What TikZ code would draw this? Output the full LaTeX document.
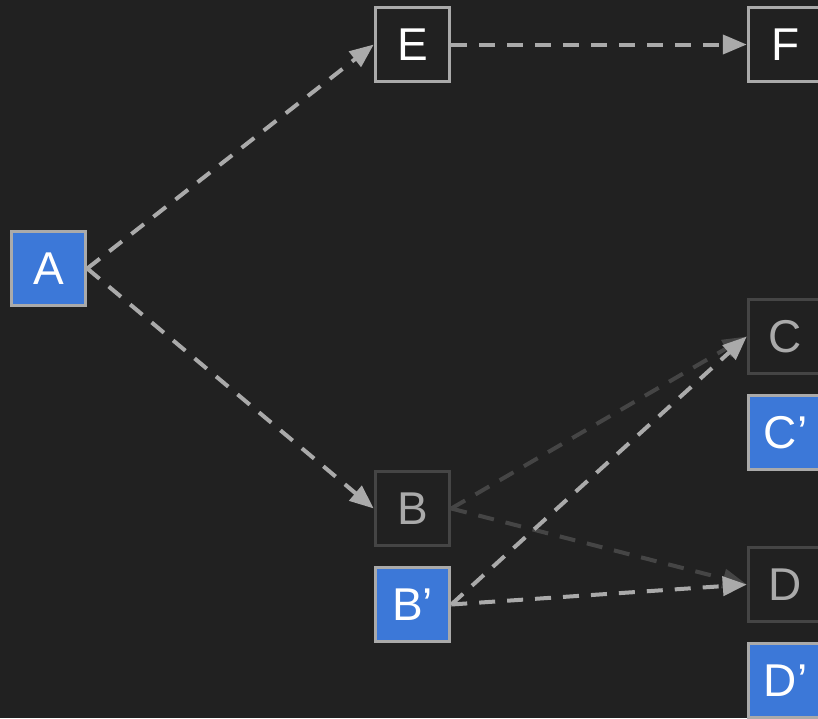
\documentclass[tikz,border=0pt]{standalone}
\usepackage{fontspec}
\setmainfont{Liberation Sans}
\usetikzlibrary{positioning, arrows.meta}

\definecolor{bg}{HTML}{212121}
\definecolor{nodeblue}{HTML}{3C78D8}
\definecolor{lightline}{HTML}{AAAAAA}
\definecolor{darkline}{HTML}{454545}

\begin{document}
\begin{tikzpicture}[
        x=1pt, y=-1pt,
        box/.style={rectangle, draw=lightline, line width=3pt, fill=bg, text=white, minimum size=74.5pt, inner sep=0pt, font=\fontsize{46}{46}\selectfont},
        faded/.style={box, draw=darkline, text=lightline},
        picked/.style={box, fill=nodeblue},
        arrow/.style={-{Triangle[length=24pt, width=19pt]}, draw=lightline, line width=4pt, dash pattern=on 16pt off 12pt},
        weak/.style={arrow, draw=darkline}
      ]
        \useasboundingbox (0,0) rectangle (818,718);
        \clip (0,0) rectangle (818,718);
        \fill[bg] (0,0) rectangle (818,718);

        % Root
        \node[picked] (A) at (48.5,268.5) {A};

        % Middle column
        \node[box] (E) at (412.5,44.5) {E};
        \node[faded] (B) at (412.5,508.5) {B};
        \node[picked, below=18.5pt of B] (B2) {B’};

        % Right column
        \node[box] (F) at (785.5,44.5) {F};
        \node[faded] (C) at (785.5,336.5) {C};
        \node[picked, below=18.5pt of C] (C2) {C’};
        \node[faded] (D) at (785.5,584.5) {D};
        \node[picked, below=18.5pt of D] (D2) {D’};

        % Arrows
        \draw[weak] (B.east) -- (C.west);
        \draw[weak] (B.east) -- (D.west);
        \draw[arrow] (A.east) -- (E.west);
        \draw[arrow] (A.east) -- (B.west);
        \draw[arrow] (E.east) -- (F.west);
        \draw[arrow] (B2.east) -- (C.west);
        \draw[arrow] (B2.east) -- (D.west);
      \end{tikzpicture}
\end{document}
